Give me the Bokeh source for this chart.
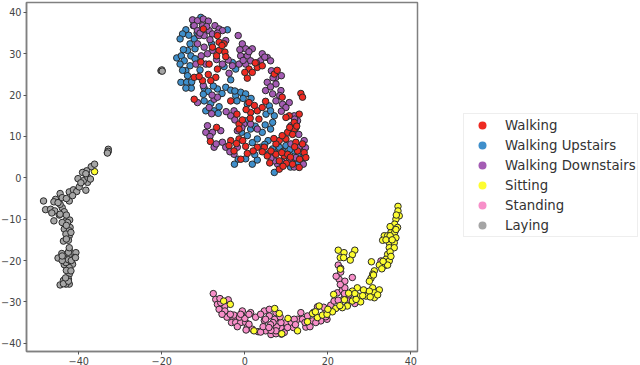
from bokeh.embed import file_html
from bokeh.resources import INLINE
from bokeh.plotting import figure
from bokeh.models import FixedTicker, Legend, LegendItem, ColumnDataSource

labels = ["Walking", "Walking Upstairs", "Walking Downstairs", "Sitting", "Standing", "Laying"]
colors = ["#ee2a22", "#3f8fcb", "#a45cb4", "#fdfd30", "#f78fc9", "#a5a5a5"]
x_ticks = [-40, -20, 0, 20, 40]
y_ticks = [-40, -30, -20, -10, 0, 10, 20, 30, 40]

walking = [(-10,36),(-6.6,34.4),(-6.2,32.8),(-5,32.4),(-6.2,30.8),(-4.8,30.4),(-7.8,31.6),(-6.6,26.3),(-7,24.3),(-8.2,23.5),
(-10.2,23.5),(-12.2,24.3),(-10.6,28),(-8.6,27.5),(-12.2,19),(1,26.3),(3,26.7),(1.8,25.5),(4.2,27.1),(.6,24.1),(7.1,25.1),
(13.5,20.4),(13.9,19.5),(-3.4,18.6),(-1.9,15.4),(1,18.2),(1.4,15.8),(3,16.2),(4.2,17),(3.4,14.2),(1.3,14.4),(10.7,15),(9.9,14.6),
(11.9,13.4),(13.1,15.4),(11.9,11.8),(10.3,11),(9.9,9.4),(8.3,9),(7.5,8.2),(4.7,7.4),(3,7.4),(-1.4,13),(-1.4,11.8),(.2,7.6),(.6,5.9),
(-.97,4.5),(-2.6,6.5),(-3.4,9),(-1.4,9.4),(-8.3,8.8),(-6.8,12.2),(5.4,5.3),(7.5,5.7),(8.3,4.1),(9.5,5.3),(12.7,6.5),(13.9,8.2),
(14.3,6.1),(14.7,4.9),(8.3,2.1),(11.5,3.3),(13.1,2.5),(10.3,5.7),(12.3,8.6),
(6.3,6.5),(8.9,6.1),(11,5),(12,7.5),(13.2,4.5),(10,3.5),(9.2,2.8),(6,3.6),(11.5,10.5),(12.5,12.5),(10.8,12.2),(9,10.2),(7,9.5),(4.2,6.3),
(2,6.5),(-.5,9),(-2,8.3),(-3.8,7.8),(-.6,14),(.3,16.5),(2.3,17.5),(5,18.5),(-5.5,32),(-6.8,29.5),(-8.8,25),(-11,24.5),(2.5,27.8),(0,25.5),
(-4.6,29.3),(7.8,26),(9,19.5)]
upstairs = [(-10.6,38.8),(-12.4,36.8),(-14.2,35.8),(-15,34.8),(-15.6,33.6),(-4.2,35.8),(-12.2,33.6),(-13.2,32.4),(-13.8,30.8),(-12,31.2),
(-16.4,29),(-15.3,29.5),(-14.6,28.3),(-15.6,27.5),(-13.2,27.1),(-10.8,26.1),(-14.2,25.9),(-13.8,24.7),(-15.4,23.1),(-14,23.1),(-12.9,21.7),
(-14.2,21.7),(-3.4,23.7),(-9.8,21.7),(-8.8,20.9),(-6.6,21.5),(-4.6,21.9),(-3.4,21.2),(-2.2,19.9),(-1,20.7),(.2,20.3),(-1.9,18.6),(.6,17.8),
(-9.8,18.6),(-6.2,17.2),(-7.4,16.2),(-9.4,16.2),(5.9,17.4),(5.1,15.4),(7.1,15),(6.7,13.4),(.2,13.8),(1.4,11.8),(.6,10.2),(4.2,11),(3,9.4),
(5.6,9),(3.8,7.4),(6.7,7),(8.3,7.4),(9.9,7.8),(7.1,1.3),(1.8,3.3),(3,4.3),(-1.6,4.5),(-5,26.9),(-2.2,26.3),(-3,27.9),(-8,32.4),(11.1,4.1),
(12.7,3.3),(13.9,4.9),(11.9,6.5),
(-11.5,35),(-13.5,34.5),(-14.8,31),(-13,29.5),(-12,28.8),(-15,26),(-12.8,23.2),(-10,20.2),(-7.6,22.2),(-5.5,20.4),(-2.4,21),(-.4,19.2),(1.5,19.2),
(-8.2,18),(-6.4,15.6),(6.2,16.2),(6.2,11.8),(4.9,12.8),(2.5,12.5),(-.8,11),(1.8,8.5),(4.8,8.1),(9.2,6.4),(10.9,6.9),(12.8,5.3),(7.3,6),(5.8,5.9),
(2.4,5.6),(.2,4.6),(11,2.6),(-2.5,3.3)]
downstairs = [(-12.6,38.2),(-11.4,38),(-10,38.4),(-8.8,37.9),(-12.2,36.8),(-10.2,36.8),(-7.2,36.8),(-11.4,35.6),(-8.6,35.6),(-6.2,36),(-5.4,35.6),
(-11,34.4),(-9.8,34.4),(-7.8,34.8),(-4.6,33.2),(-11.4,32.4),(-9.8,31.6),(-7.8,30.8),(-11.8,27.5),(-9.4,27.5),(-5.4,27.5),(-1.6,34.4),(-.6,32.4),
(.2,31.2),(1.8,31.2),(-1,29.5),(.6,29.5),(-1.4,27.5),(.2,27.5),(-3,27.1),(1.4,28.3),(4.2,30),(5.4,29.1),(6.2,28.3),(3.8,28.3),(-3.8,25.3),(6.4,25.9),
(7.5,24.3),(8.8,24.7),(5.4,23.1),(7.5,22.7),(5,21.1),(6.7,20.3),(8.7,21.1),(7.5,18.6),(9.1,17.8),(10.7,18.2),(9.9,17),(-7.4,19),(-6.6,19.5),(-11.4,18.2),
(-8.6,17),(-2.6,16.2),(-3.4,15),(-10,22.3),(-9,12.6),(-9.4,11),(-7.8,11),(-5.8,11.4),(-.2,13),(1.4,13),(3,11.8),(-1.8,11.4),(-5.4,8.6),(-4.6,7.4),(-7.4,7.4),
(11.9,15),(12.7,13.8),(11.1,12.6),(14.3,9),(-1.8,7.4),(-2.6,5.7),(7.9,3.3),(7.1,4.1),(10.7,4.1),(14.1,3.3),(11.1,8.2),(12.3,4.9),
(-9.2,36.6),(-10.8,35),(-8.4,33.4),(-6.6,35),(-9,30),(-10.5,29.5),(-6.8,28.6),(-4,28.5),(-1.2,31),(1,30.5),(-.4,28.4),(2.8,27.8),(4.8,29.2),(6.8,24.2),
(6.2,22),(8.4,19.9),(8.8,16.1),(-7.9,20),(-8,15.5),(-4.5,16),(-2.4,14),(-.7,12.1),(-8.4,10),(-6.9,8.2),(-3.6,6.3),(12,14.2),(12.3,12.1),(13,10.5),(14.6,7.3),
(13,7.3),(9,3.8),(11.9,2.6),(6.3,4.8)]
sitting = [(36.9,-6.9),(36.9,-8),(37.2,-9.2),(36.4,-10),(36.1,-11.2),(36.8,-12),(35.6,-12.4),(35.2,-13.2),(36.1,-13.2),(33.6,-14),(34.4,-14),(33.2,-15.1),
(35.3,-14.5),(36.4,-14.5),(34.8,-15.7),(36,-15.7),(34.8,-16.9),(36,-16.9),(34.4,-18.5),(34,-19.7),(34.8,-20.1),(33.6,-21.3),(32.4,-21.1),(34.4,-21.1),
(30.5,-20.3),(31.2,-22.5),(30.8,-23.3),(30.4,-24.3),(22.5,-17.5),(23.9,-18.1),(23,-19.3),(23.8,-19.3),(26.5,-17.5),(25.9,-18.6),(25.4,-19.9),(23,-22.1),
(27.1,-26.6),(25.9,-27.4),(28.6,-27.1),(30.8,-26.6),(32.4,-27.1),(31.2,-27.8),(29.2,-28.6),(31.2,-29),(21.4,-28.2),(27.3,-28.6),(27.9,-30),(25.9,-29.8),
(24.7,-31),(23.5,-31.4),(21.9,-31.6),(21.1,-32.4),(17.9,-31),(16.3,-32.8),(17.5,-33.8),(18.7,-33.2),(15.1,-34.8),(-5.1,-29.8),(-3.5,-30.6),(7.2,-31.6),
(8.3,-32.8),(10.4,-34),(12.7,-37),(8.9,-37.7),(2.2,-37),(-36.2,1.5),
(36.5,-9),(36.4,-12.5),(35,-14),(34,-15),(35.5,-15),(35,-17.9),(35.2,-19),(33.3,-20.2),(33,-22),(35,-11.8),(26.5,-28),(28.4,-28.5),(30,-27.4),(30.2,-28.8),
(32,-28.3),(24,-29.5),(26.8,-29.4),(25,-27.9),(19.8,-33),(17,-32.4),(20,-31.8),(22.9,-30.9),(31,-23.5),(30,-25)]
standing = [(-7.6,-28),(-7,-29.4),(-6.6,-30.6),(-6.2,-31.8),(-4.8,-31),(-4,-29.5),(-4.8,-32.2),(-4.3,-33.7),(-2.6,-34),(-3.2,-35),(-2.2,-35),(-.6,-32.2),
(-.3,-33.8),(-1,-35),(.2,-35),(.6,-36.1),(1.4,-32.6),(2.6,-33.7),(1.8,-36.6),(3.2,-37.2),(5,-37),(4.7,-32.2),(5.9,-31.8),(5.9,-33.4),(7.2,-34.2),(7.5,-32.6),
(4.7,-34.5),(6.3,-37.9),(7.5,-37.7),(8.7,-36.2),(9.5,-37.4),(7.7,-36),(9.9,-35),(11.2,-35),(11.7,-36.2),(12.7,-34.2),(13.5,-32.6),(13.9,-34.2),(14.7,-36.1),
(16.3,-34.6),(17.5,-31.2),(18.3,-34.6),(19.8,-34.2),(19.5,-32),(20.7,-30.8),(22.3,-27.8),(23.5,-27.2),(24.1,-26.6),(24.7,-29.4),(26.5,-30.4),(22.7,-24.5),
(24.1,-25),(25.9,-24.1),(23.1,-22.8),(22.5,-21.1),(23.1,-21.9),(25.1,-28.3),(23.9,-29.1),(32.8,-20.1),(5,-34.2),(-2.6,-33.2),(1,-35.4),(-5.8,-30.2),
(8.7,-35),(7.5,-37),(6.3,-36.9),(11.9,-34.2),(15.1,-33.4),(17.1,-35),
(-6,-29.2),(-5.5,-33),(-3.5,-33),(-1.3,-33.7),(-1.8,-36),(0,-34),(1,-33),(3.8,-33),(3.8,-37.3),(4.4,-36),(6.8,-35),(6.2,-35.5),(8.8,-37.8),(8.5,-33.6),
(10.3,-36.2),(12.2,-35.5),(14.5,-35),(15.7,-36),(16.6,-32.5),(19,-31.3),(19.5,-33.6),(21.5,-29.8),(22.5,-29.6),(24,-28),(23,-25.8),(22,-23.8),(5.8,-36.2),
(.3,-36.8),(-1,-33)]
laying = [(-48.5,-5.6),(-48,-7.7),(-46.8,-7.6),(-45.8,-8),(-44.7,-9),(-46,-10.4),(-45.6,-5.2),(-46,-5.8),(-44.5,-3.8),(-44,-7.2),(-42.3,-5.6),(-42.3,-3.4),
(-41.3,-2.9),(-40.5,-3.3),(-43.5,-8.2),(-44.5,-8.8),(-43.1,-10.4),(-42.2,-10.2),(-43.5,-12.4),(-42.1,-12),(-42.3,-12.8),(-42.3,-14),(-42.5,-15.1),(-43.7,-15.3),
(-44.5,-6.4),(-42.7,-10.8),(-43.1,-13.6),(-39.9,-2.2),(-40.2,-.2),(-38.7,1.3),(-38.1,.5),(-37.9,-1.1),(-38.3,-3),(-38.9,-.7),(-37,2.7),(-36.2,3.3),(-38.1,1.7),
(-39.1,1.3),(-44.1,-18.3),(-42.3,-17.5),(-40.7,-18.1),(-45,-19.4),(-43.5,-19.4),(-42.3,-18.9),(-41,-19.3),(-41.5,-20.9),(-43.5,-21),(-42.3,-21.7),(-43.1,-20.5),
(-42.3,-23.3),(-42.5,-24.5),(-43.7,-24.8),(-44.5,-25.9),(-42.3,-25.7),(-43.1,-25.7),(-43.7,-25.6),(-33.1,6.1),(-32.9,6.9),(-32.9,6.4),(-33.1,6),(-20.2,25.9),(-20,26.1),(-19.9,25.8),
(-45,-6),(-44,-4.8),(-46.5,-8.5),(-44,-10.8),(-43,-9),(-41.5,-4.3),(-43,-5),(-39.5,-1.2),(-37.8,.1),(-38.3,1),(-37.2,-.3),(-43,-11.5),(-41.9,-13.2),(-43,-14.8),
(-42.5,-19.8),(-44,-20),(-41.8,-20),(-44,-18.9),(-43,-22.4),(-41.9,-22.5),(-42.5,-25),(-43.2,-24.2),(-42.5,-18),(-40.8,-19.3),(-42.3,-16.9)]
series = [walking, upstairs, downstairs, sitting, standing, laying]
draw_order = [1, 2, 0, 4, 3, 5]

p = figure(width=642, height=367, frame_width=391, frame_height=349, output_backend="svg", toolbar_location=None,
           x_range=(-52.6, 41.6), y_range=(-42.0, 42.4),
           min_border_left=26, min_border_top=2, min_border_right=0, min_border_bottom=16,
           background_fill_color="white", margin=(0, 0, 0, -2))
p.grid.visible = False
p.outline_line_color = "#808080"
p.outline_line_width = 1.5
for ax, ticks in ((p.xaxis[0], x_ticks), (p.yaxis[0], y_ticks)):
    ax.ticker = FixedTicker(ticks=ticks)
    ax.minor_tick_line_color = None
    ax.major_tick_line_color = "#555555"
    ax.major_tick_out = 3
    ax.major_tick_in = 0
    ax.axis_line_color = "#808080"
    ax.axis_line_width = 1.5
    ax.major_label_standoff = 2
    ax.major_label_text_font = "DejaVu Sans"
    ax.major_label_text_font_size = "9.7px"
    ax.major_label_text_color = "#444444"

for i in draw_order:
    pts = series[i]
    p.scatter([a for a, _ in pts], [b for _, b in pts], size=6.5, marker="circle",
              fill_color=colors[i], line_color="#2a2a2a", line_width=1)

nan = float("nan")
items = []
for lab, c in zip(labels, colors):
    src = ColumnDataSource(data=dict(x=[nan], y=[nan]))
    r = p.scatter("x", "y", source=src, size=9, fill_color=c, line_color=None)
    items.append(LegendItem(label=lab, renderers=[r]))
legend = Legend(items=items, location=(46, 114), margin=23, padding=1, spacing=0,
                glyph_width=34, glyph_height=20, label_height=19, label_standoff=6,
                label_text_font="DejaVu Sans", label_text_font_size="13.3px",
                label_text_color="#333333", border_line_color="#dddddd",
                border_line_width=1, background_fill_color="white", background_fill_alpha=1)
p.add_layout(legend, "right")

open("out.html", "w").write(file_html(p, INLINE))
